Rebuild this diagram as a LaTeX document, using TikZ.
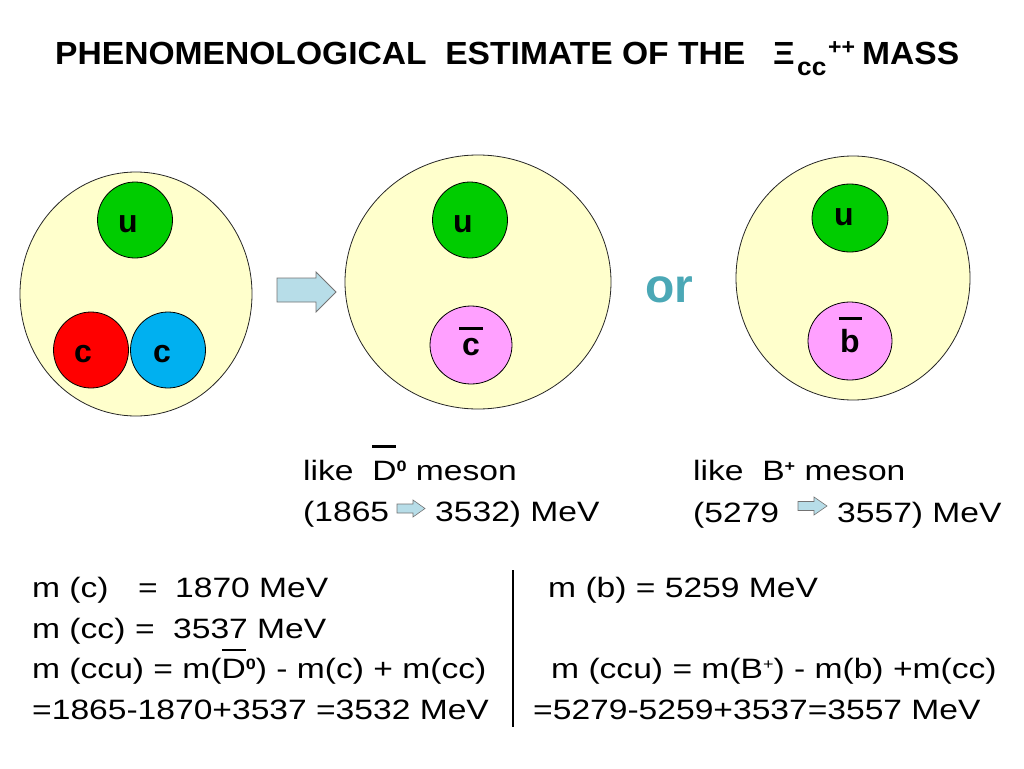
\documentclass[tikz,border=0pt]{standalone}
\usepackage{fontspec}
\setmainfont[FakeStretch=1.2]{Liberation Sans}
\newfontfamily\hfont[FakeStretch=1.05]{Liberation Sans}
\newfontfamily\qfont{Liberation Sans}
\usetikzlibrary{shapes.geometric}
\definecolor{cream}{RGB}{255,255,204}
\definecolor{qgreen}{RGB}{0,204,0}
\definecolor{qred}{RGB}{255,0,0}
\definecolor{qblue}{RGB}{0,176,240}
\definecolor{qpink}{RGB}{255,160,255}
\definecolor{arrowc}{RGB}{183,221,232}
\definecolor{orteal}{RGB}{75,168,182}
% overline: raise, width, thickness, text
\newcommand\ovl[4]{\ooalign{#4\cr\hidewidth\raise#1\hbox{\rule{#2}{#3}}\hidewidth\cr}}
\newcommand\sups[1]{\raisebox{9pt}{\fontsize{15}{15}\selectfont #1}}
\begin{document}
\begin{tikzpicture}[x=1pt,y=-1pt,
  big/.style={ellipse,draw=black!85,line width=0.8pt,fill=cream,inner sep=0pt},
  quark/.style={ellipse,draw=black,line width=0.8pt,inner sep=0pt,minimum width=75pt,minimum height=76pt},
  qlab/.style={anchor=base,inner sep=0pt,font=\qfont\bfseries\fontsize{32}{36}\selectfont},
  txt/.style={anchor=base west,inner sep=0pt,font=\fontsize{28}{34}\selectfont},
  ttl/.style={anchor=base west,inner sep=0pt,font=\hfont\bfseries\fontsize{32}{38}\selectfont},
  blockarrow/.style={draw=black!55,fill=arrowc,line width=0.8pt,line join=miter}
]
\useasboundingbox (0,0) rectangle (1024,768);

% title
\node[ttl] (t1) at (55,64) {PHENOMENOLOGICAL\ \ ESTIMATE OF THE};
\node[ttl] (xi) at (773,64) {Ξ};
\node[anchor=base west,inner sep=0pt,font=\hfont\bfseries\fontsize{25}{28}\selectfont] (xisub) at (797,75) {cc};
\node[anchor=base west,inner sep=0pt,font=\hfont\bfseries\fontsize{22}{24}\selectfont] (xisup) at (828,55) {++};
\node[ttl] (mass) at (862,64) {MASS};

% hadron 1 (ccu)
\node[big,minimum width=232pt,minimum height=244pt] (h1) at (136,294) {};
\node[quark,fill=qgreen] (u1) at (135,220) {};
\node[quark,fill=qred] (c1) at (91,350) {};
\node[quark,fill=qblue] (c2) at (168,350) {};
\node[qlab] (u1l) at (128,232) {u};
\node[qlab] (c1l) at (83,362) {c};
\node[qlab] (c2l) at (162,362) {c};

% big arrow
\draw[blockarrow] (277,278) -- (316,278) -- (316,272) -- (336,292) -- (316,312) -- (316,302) -- (277,302) -- cycle;

% hadron 2 (like D0bar)
\node[big,minimum width=266pt,minimum height=254pt] (h2) at (478,282) {};
\node[quark,fill=qgreen] (u2) at (470,220) {};
\node[quark,fill=qpink,minimum width=82pt,minimum height=78pt] (cb) at (471,345) {};
\node[qlab] (u2l) at (463,232) {u};
\node[qlab] (cbl) at (471,355) {\ovl{25.5pt}{24pt}{3pt}{c}};

% or
\node[anchor=base,inner sep=0pt,font=\qfont\bfseries\fontsize{48}{52}\selectfont,text=orteal] (or) at (669,302) {or};

% hadron 3 (like B+)
\node[big,minimum width=234pt,minimum height=244pt] (h3) at (853,278) {};
\node[quark,fill=qgreen,minimum width=76pt,minimum height=68pt] (u3) at (850,218) {};
\node[quark,fill=qpink,minimum width=84pt,minimum height=78pt] (bb) at (850,341) {};
\node[qlab] (u3l) at (844,225) {u};
\node[qlab] (bbl) at (850,352) {\ovl{32.5pt}{23pt}{3pt}{b}};

% labels under hadrons
\node[txt] (l1) at (303,480) {like\ \ \ovl{32.5pt}{24pt}{2.5pt}{D}\sups{\bfseries 0} meson};
\node[txt] (l2a) at (303,521) {(1865};
\draw[blockarrow,line width=0.6pt] (397,504) -- (413,504) -- (413,500) -- (425,508.5) -- (413,517) -- (413,513) -- (397,513) -- cycle;
\node[txt] (l2b) at (435,521) {3532) MeV};

\node[txt] (r1) at (693,480) {like\ \ B\sups{\bfseries +} meson};
\node[txt] (r2a) at (693,522) {(5279};
\draw[blockarrow,line width=0.6pt] (798,501.5) -- (814,501.5) -- (814,497) -- (827,506) -- (814,515) -- (814,510.5) -- (798,510.5) -- cycle;
\node[txt] (r2b) at (837,522) {3557) MeV};

% bottom left
\node[txt] (a1) at (32,597) {m (c)};
\node[txt] (a2) at (138,597) {=};
\node[txt] (a3) at (175,597) {1870 MeV};
\node[txt] (b1) at (32,638) {m (cc)};
\node[txt] (b2) at (135,638) {=};
\node[txt] (b3) at (173,638) {3537 MeV};
\node[txt] (c3) at (32,678) {m (ccu) = m(\ovl{27pt}{24pt}{2.5pt}{D}\sups{\bfseries 0}) - m(c) + m(cc)};
\node[txt] (d4) at (32,719) {=1865-1870+3537 =3532 MeV};

% divider
\coordinate (dtop) at (513,570);
\coordinate (dbot) at (513,727);
\draw[line width=2pt] (dtop) -- (dbot);

% bottom right
\node[txt] (e1) at (548,597) {m (b) = 5259 MeV};
\node[txt] (e3) at (551,678) {m (ccu) = m(B\sups{+}) - m(b) +m(cc)};
\node[txt] (e4) at (533,719) {=5279-5259+3537=3557 MeV};
\end{tikzpicture}
\end{document}
